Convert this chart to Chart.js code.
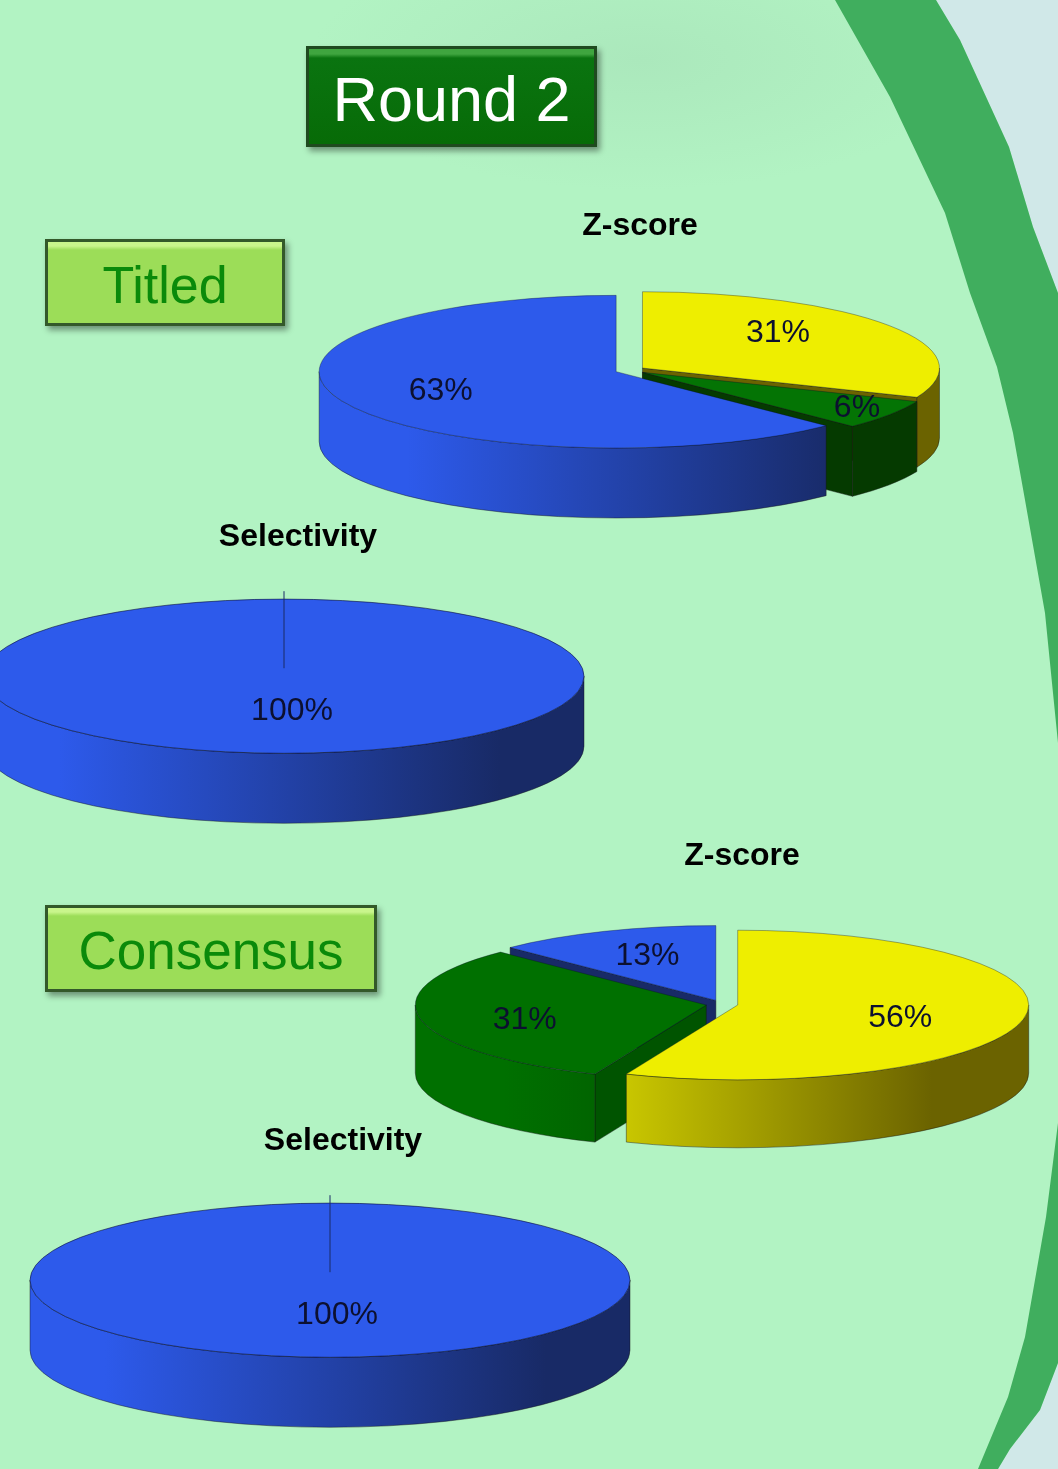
<!DOCTYPE html>
<html>
<head>
<meta charset="utf-8">
<title>Round 2</title>
<script src="https://cdn.jsdelivr.net/npm/chart.js@4"></script>
<style>
html,body{margin:0;padding:0;}
body{
    position:relative;
    width:1058px;
    height:1469px;
    overflow:hidden;
    background:radial-gradient(ellipse 330px 130px at 640px 60px,#abe8bc,#b2f3c3);
    font-family:"Liberation Sans",Arial,sans-serif;
}
svg.fondo{position:absolute;left:0;top:0;}
canvas{position:absolute;}
.caja{
    position:absolute;
    box-sizing:border-box;
    display:flex;
    align-items:center;
    justify-content:center;
    padding-top:4px;
    border:3px solid #33592a;
    box-shadow:3px 4px 6px rgba(0,0,0,.4);
}
#round{
    left:306px;top:46px;width:291px;height:101px;
    font-size:63px;color:#fff;
    background:linear-gradient(#3fa53f 0,#3fa53f 5px,#0a7410 9px,#076b07 100%);
    border-color:#1f4a1f;
}
#titled,#consensus{
    top:239px;height:87px;color:#0a8a0a;
    background:linear-gradient(#c9f58c 0,#c9f58c 4px,#9cdd58 8px,#9cdd58 100%);
}
#titled{left:45px;width:240px;font-size:52px;}
#consensus{left:45px;top:905px;width:332px;font-size:53px;}
</style>
</head>
<body>

<svg class="fondo" width="1058" height="1469">
    <path fill="#d0e8e8" d="M936,0 L1058,0 L1058,293 L1033,227 L1009,147 L960,40 Z"/>
    <path fill="#d0e8e8" d="M1058,1363 L1058,1469 L998,1469 L1010,1449 L1040,1410 Z"/>
    <path fill="#40ae5e" d="M835,0 L936,0 L960,40 L1009,147 L1033,227 L1058,293 L1058,743 L1045,613 L1025,500 L1013,433 L997,367 L970,293 L945,213 L890,97 Z"/>
    <path fill="#40ae5e" d="M1058,1123 L1046,1217 L1025,1337 L1008,1397 L978,1469 L998,1469 L1010,1449 L1040,1410 L1058,1363 Z"/>
</svg>

<div class="caja" id="round">Round 2</div>
<div class="caja" id="titled">Titled</div>
<div class="caja" id="consensus">Consensus</div>

<canvas id="titledZscore"></canvas>
<canvas id="titledSelectivity"></canvas>
<canvas id="consensusZscore"></canvas>
<canvas id="consensusSelectivity"></canvas>

<script>
// Values (labels show them rounded)

const titledZscore = [31.25, 6.25, 62.5];
const titledSelectivity = [100];
const consensusZscore = [56.25, 31.25, 12.5];
const consensusSelectivity = [100];

const zscoreTitle = "Z-score";
const selectivityTitle = "Selectivity";

// Slice colours

const yellow = {top:"#eeee00", dark:"#6b6300", face:"#6b6300"};
const green = {top:"#047404", dark:"#053a00", face:"#053a00"};
const greenConsensus = {top:"#007000", dark:"#053a00", face:"#005400"};
const blue = {top:"#2d5aeb", dark:"#182a66", face:"#182a66"};

const k = 0.257;
const titleHeight = 38.4;

// Draws the pies flattened with a wall under each slice

const pie3d = {

    id:"pie3d",

    afterDatasetsUpdate(chart,args,opts){

        chart.getDatasetMeta(0).data.forEach(arc => {

            const mid = (arc.startAngle + arc.endAngle) / 2;

            arc.x += Math.cos(mid) * opts.explode + opts.shiftX;
            arc.y += Math.sin(mid) * opts.explode;

        });

    },

    beforeDatasetsDraw(chart,args,opts){

        const ctx = chart.ctx;
        const area = chart.chartArea;
        const cy = (area.top + area.bottom) / 2;
        const cx = (area.left + area.right) / 2 + opts.shiftX;

        const arcs = chart.getDatasetMeta(0).data.map((arc,i) => {

            const y = cy + (arc.y - cy) * k;
            const ry = arc.outerRadius * k;
            const hasFront = arc.startAngle < Math.PI / 2 && arc.endAngle > Math.PI / 2;
            const front = hasFront ? y + ry : y + ry * Math.max(Math.sin(arc.startAngle), Math.sin(arc.endAngle));

            return {arc, y, ry, front, color:opts.colors[i]};

        });

        arcs.sort((a,b) => a.front - b.front);

        ctx.save();
        ctx.lineWidth = 0.8;
        ctx.strokeStyle = "rgba(20,20,20,.55)";

        arcs.forEach(s => {

            const arc = s.arc;
            const rx = arc.outerRadius;

            // cut faces

            const isFull = arc.endAngle - arc.startAngle >= Math.PI * 2 - 0.001;

            if(!isFull){

                [[arc.startAngle, -1], [arc.endAngle, 1]].forEach(e => {

                    if(Math.sin(e[0] + e[1] * Math.PI / 2) <= 0) return;

                    const tx = arc.x + Math.cos(e[0]) * rx;
                    const ty = s.y + Math.sin(e[0]) * s.ry;

                    ctx.beginPath();
                    ctx.moveTo(arc.x, s.y);
                    ctx.lineTo(tx, ty);
                    ctx.lineTo(tx, ty + opts.depth);
                    ctx.lineTo(arc.x, s.y + opts.depth);
                    ctx.closePath();
                    ctx.fillStyle = s.color.face;
                    ctx.fill();
                    ctx.stroke();

                });

            }

            // outer wall

            const a = Math.max(arc.startAngle, 0);
            const b = Math.min(arc.endAngle, Math.PI);

            if(b > a){

                const grad = ctx.createLinearGradient(cx - rx * 0.75, 0, cx + rx * 0.72, 0);
                grad.addColorStop(0, s.color.top);
                grad.addColorStop(1, s.color.dark);

                ctx.beginPath();
                ctx.ellipse(arc.x, s.y, rx, s.ry, 0, a, b);
                ctx.ellipse(arc.x, s.y + opts.depth, rx, s.ry, 0, b, a, true);
                ctx.closePath();
                ctx.fillStyle = grad;
                ctx.fill();
                ctx.stroke();

            }

        });

        ctx.restore();

        // the library draws the top faces inside this squash

        ctx.save();
        ctx.translate(0, cy);
        ctx.scale(1, k);
        ctx.translate(0, -cy);

    },

    afterDatasetsDraw(chart,args,opts){

        const ctx = chart.ctx;

        ctx.restore();

        const area = chart.chartArea;
        const cy = (area.top + area.bottom) / 2;
        const values = chart.data.datasets[0].data;

        ctx.save();

        // outline and seam line on the full pies

        if(values.length === 1){

            const arc = chart.getDatasetMeta(0).data[0];

            ctx.strokeStyle = "rgba(10,10,40,.55)";
            ctx.lineWidth = 1;
            ctx.beginPath();
            ctx.ellipse(arc.x, cy, arc.outerRadius, arc.outerRadius * k, 0, 0, Math.PI * 2);
            ctx.stroke();

            ctx.strokeStyle = "#1a2a66";
            ctx.beginPath();
            ctx.moveTo(arc.x, cy - 85);
            ctx.lineTo(arc.x, cy - 8);
            ctx.stroke();

        }

        // percent labels

        ctx.font = "32px 'Liberation Sans'";
        ctx.fillStyle = "#0c1030";
        ctx.textAlign = "center";
        ctx.textBaseline = "middle";

        chart.getDatasetMeta(0).data.forEach((arc,i) => {

            const mid = (arc.startAngle + arc.endAngle) / 2;
            const y = cy + (arc.y - cy) * k;
            const r = arc.outerRadius * 0.65;

            ctx.fillText(
                Math.round(values[i]) + "%",
                arc.x + Math.cos(mid) * r + opts.labelShifts[i][0],
                y + Math.sin(mid) * r * k + opts.labelShifts[i][1] + 2
            );

        });

        ctx.restore();

    }

};

// Crear gráfico

function crearPie(id, values, colors, title, place){

    const canvas = document.getElementById(id);
    const gap = place.cy - place.titleY;
    const height = gap + 170;
    const width = 2 * (place.rx + 70);

    canvas.width = width;
    canvas.height = height;
    canvas.style.left = (place.titleX - width / 2) + "px";
    canvas.style.top = (place.titleY - titleHeight / 2) + "px";

    return new Chart(canvas,{

        type:"pie",

        plugins:[pie3d],

        data:{

            labels:values.map(v => Math.round(v) + "%"),

            datasets:[{

                data:values,

                backgroundColor:colors.map(c => c.top),

                borderColor:"rgba(10,10,40,.55)",

                borderWidth:values.length > 1 ? 1 : 0,

                radius:place.rx,

                clip:false

            }]

        },

        options:{

            responsive:false,

            animation:false,

            events:[],

            layout:{
                padding:{
                    bottom:height - 2 * gap
                }
            },

            plugins:{

                legend:{
                    display:false
                },

                tooltip:{
                    enabled:false
                },

                title:{
                    display:true,
                    text:title,
                    color:"#000",
                    padding:0,
                    font:{
                        family:"'Liberation Sans'",
                        size:32,
                        weight:"bold",
                        lineHeight:1.2
                    }
                },

                pie3d:{
                    colors:colors,
                    depth:place.depth,
                    explode:place.explode,
                    shiftX:place.cx - place.titleX,
                    labelShifts:place.labelShifts
                }

            }

        }

    });

}

crearPie("titledZscore", titledZscore, [yellow, green, blue], zscoreTitle, {
    cx:630, cy:370, rx:297, depth:70, explode:15, titleX:640, titleY:226,
    labelShifts:[[-25,-9],[54,6],[3,-1]]
});

crearPie("titledSelectivity", titledSelectivity, [blue], selectivityTitle, {
    cx:284, cy:676, rx:300, depth:70, explode:0, titleX:298, titleY:537,
    labelShifts:[[8,-17]]
});

crearPie("consensusZscore", consensusZscore, [yellow, greenConsensus, blue], zscoreTitle, {
    cx:722, cy:1004, rx:291, depth:68, explode:16, titleX:742, titleY:856,
    labelShifts:[[-23,2],[4,4],[4,-1]]
});

crearPie("consensusSelectivity", consensusSelectivity, [blue], selectivityTitle, {
    cx:330, cy:1280, rx:300, depth:70, explode:0, titleX:343, titleY:1141,
    labelShifts:[[7,-17]]
});
</script>

</body>
</html>
